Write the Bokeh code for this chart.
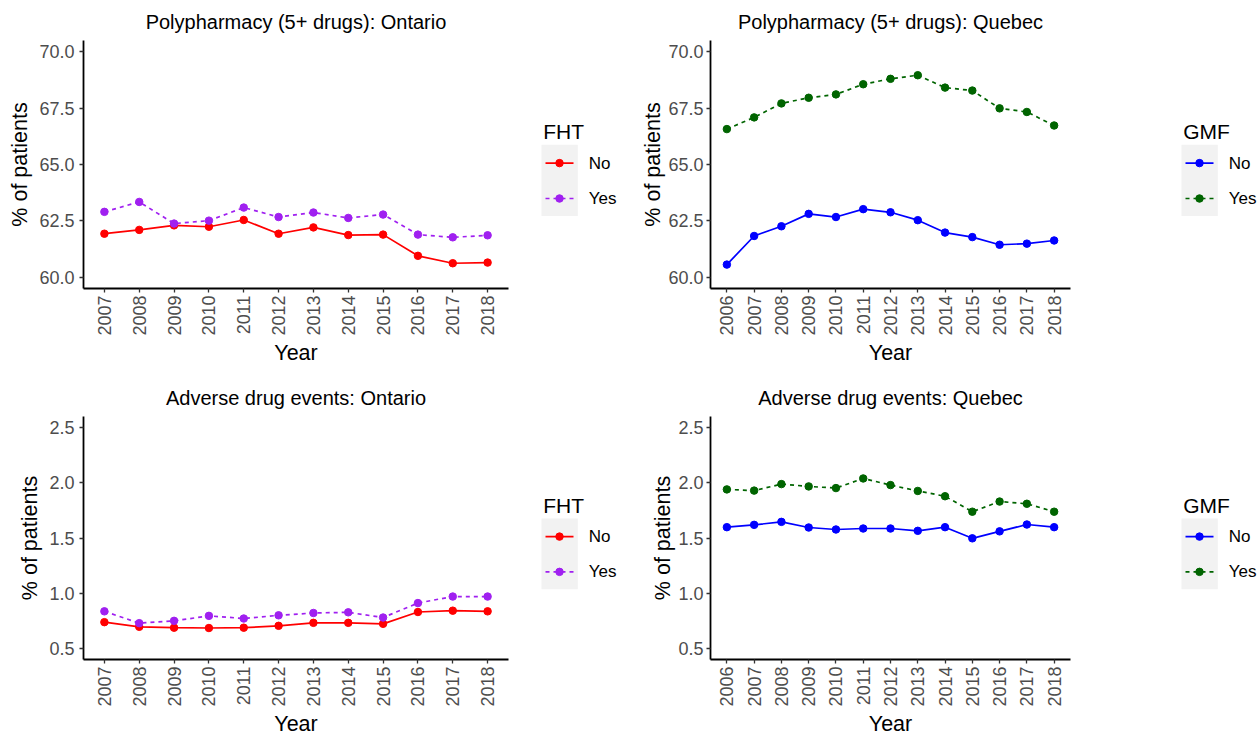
import math
from bokeh.plotting import figure
from bokeh.models import Range1d, FixedTicker, PrintfTickFormatter, BasicTickFormatter
from bokeh.layouts import row, column
from bokeh.core.properties import value
from bokeh.embed import file_html
from bokeh.resources import INLINE

FONT = "Liberation Sans"

# ---------------- data ----------------
years_on = [2007, 2008, 2009, 2010, 2011, 2012, 2013, 2014, 2015, 2016, 2017, 2018]
years_qc = [2006, 2007, 2008, 2009, 2010, 2011, 2012, 2013, 2014, 2015, 2016, 2017, 2018]

poly_on_no = [61.93, 62.10, 62.30, 62.24, 62.54, 61.93, 62.21, 61.87, 61.89, 60.95, 60.62, 60.65]
poly_on_yes = [62.90, 63.34, 62.38, 62.51, 63.09, 62.67, 62.87, 62.63, 62.78, 61.89, 61.77, 61.86]

poly_qc_no = [60.56, 61.83, 62.26, 62.81, 62.67, 63.02, 62.88, 62.53, 61.98, 61.78, 61.44, 61.49, 61.63]
poly_qc_yes = [66.57, 67.09, 67.71, 67.96, 68.11, 68.56, 68.80, 68.96, 68.41, 68.28, 67.49, 67.33, 66.73]

ade_on_no = [0.738, 0.696, 0.688, 0.685, 0.688, 0.705, 0.732, 0.732, 0.723, 0.830, 0.842, 0.836]
ade_on_yes = [0.836, 0.729, 0.750, 0.795, 0.771, 0.800, 0.821, 0.827, 0.780, 0.911, 0.970, 0.970]

ade_qc_no = [1.598, 1.619, 1.646, 1.595, 1.577, 1.586, 1.586, 1.565, 1.598, 1.497, 1.560, 1.622, 1.598]
ade_qc_yes = [1.940, 1.929, 1.988, 1.967, 1.952, 2.039, 1.979, 1.926, 1.878, 1.738, 1.830, 1.810, 1.738]

poly_ticks = [60.0, 62.5, 65.0, 67.5, 70.0]
ade_ticks = [0.5, 1.0, 1.5, 2.0, 2.5]

on_colors = ["#FF0000", "#A020F0"]
qc_colors = ["#0000FF", "#006400"]
group_labels = ["No", "Yes"]
dashes = ["solid", "4 4"]


def main_fig(w, h, bl, bt, br, bb, title, years, ser_no, ser_yes, colors, yr, yticks,
             y_lab_standoff, y_axlab_standoff):
    p = figure(width=w, height=h, min_border_left=bl, min_border_top=bt,
               min_border_right=br, min_border_bottom=bb,
               x_range=Range1d(years[0] - 0.6, years[-1] + 0.6),
               y_range=Range1d(yr[0], yr[1]),
               output_backend="svg", toolbar_location=None, title=title)
    p.title.align = "center"
    p.title.text_font = FONT
    p.title.text_font_size = "20px"
    p.title.text_font_style = "normal"
    p.title.text_color = "#000000"
    p.title.standoff = 16
    p.grid.visible = False
    p.outline_line_color = None
    p.background_fill_color = "white"
    p.border_fill_color = "white"

    for ax in (p.xaxis[0], p.yaxis[0]):
        ax.axis_line_color = "black"
        ax.axis_line_width = 1.8
        ax.major_tick_line_color = "#333333"
        ax.major_tick_line_width = 1.3
        ax.major_tick_in = 0
        ax.major_tick_out = 4
        ax.minor_tick_line_color = None
        ax.major_label_text_font = FONT
        ax.major_label_text_font_size = "18px"
        ax.major_label_text_color = "#4D4D4D"
        ax.axis_label_text_font = FONT
        ax.axis_label_text_font_size = "21.5px"
        ax.axis_label_text_font_style = "normal"
        ax.axis_label_text_color = "#000000"

    p.xaxis.major_label_standoff = 3
    p.xaxis.axis_label_standoff = 2
    p.yaxis.major_label_standoff = y_lab_standoff
    p.yaxis.axis_label_standoff = y_axlab_standoff

    p.xaxis.ticker = FixedTicker(ticks=years)
    p.xaxis.formatter = BasicTickFormatter(use_scientific=False)
    p.xaxis.major_label_orientation = math.pi / 2
    p.xaxis.axis_label = "Year"
    p.yaxis.ticker = FixedTicker(ticks=yticks)
    p.yaxis.formatter = PrintfTickFormatter(format="%.1f")
    p.yaxis.axis_label = "% of patients"

    for ser, c, d in zip([ser_no, ser_yes], colors, dashes):
        p.line(years, ser, line_color=c, line_width=1.7, line_dash=d)
    for ser, c in zip([ser_no, ser_yes], colors):
        p.scatter(years, ser, size=7.5, fill_color=c, line_color=c)
    return p


def legend_fig(w, h, bt, bb, box_left, title, colors):
    # coordinates in pixels relative to the frame (same vertical frame as the panel)
    fh = h - bt - bb
    p = figure(width=w, height=h, x_range=Range1d(0, w), y_range=Range1d(fh, 0),
               min_border_left=0, min_border_right=0,
               min_border_top=bt, min_border_bottom=bb,
               x_axis_location=None, y_axis_location=None,
               output_backend="svg", toolbar_location=None)
    p.grid.visible = False
    p.outline_line_color = None
    p.border_fill_color = "white"
    p.background_fill_color = "white"
    c = fh / 2.0
    p.quad(left=[box_left], right=[box_left + 36.3], top=[c - 19.7], bottom=[c + 51.5],
           fill_color="#F2F2F2", line_color=None)
    p.text(x=[box_left + 1.7], y=[c - 33.0], text=[title], text_font=value(FONT),
           text_font_size="21px", text_baseline="alphabetic", text_align="left",
           text_color="#000000")
    keys_y = [c - 1.4, c + 34.0]
    for ky, col, d, lab in zip(keys_y, colors, dashes, group_labels):
        p.segment(x0=[box_left + 4], x1=[box_left + 32], y0=[ky], y1=[ky],
                  line_color=col, line_width=1.7, line_dash=d)
        p.scatter(x=[box_left + 18], y=[ky], size=7.5, fill_color=col, line_color=col)
        p.text(x=[box_left + 47.3], y=[ky], text=[lab], text_font=value(FONT),
               text_font_size="17px", text_baseline="middle", text_align="left",
               text_color="#000000")
    return p


TOP_H, TOP_BT, TOP_BB = 368, 40, 80
BOT_H, BOT_BT, BOT_BB = 370, 48, 78

p1 = main_fig(525, TOP_H, 83, TOP_BT, 17, TOP_BB, "Polypharmacy (5+ drugs): Ontario",
              years_on, poly_on_no, poly_on_yes, on_colors, (59.5, 70.5), poly_ticks, 5, 4)
l1 = legend_fig(113, TOP_H, TOP_BT, TOP_BB, 16, "FHT", on_colors)
p2 = main_fig(452, TOP_H, 72, TOP_BT, 20, TOP_BB, "Polypharmacy (5+ drugs): Quebec",
              years_qc, poly_qc_no, poly_qc_yes, qc_colors, (59.5, 70.5), poly_ticks, 3, 0)
l2 = legend_fig(167, TOP_H, TOP_BT, TOP_BB, 91, "GMF", qc_colors)

p3 = main_fig(525, BOT_H, 83, BOT_BT, 17, BOT_BB, "Adverse drug events: Ontario",
              years_on, ade_on_no, ade_on_yes, on_colors, (0.4, 2.6), ade_ticks, 5, 4)
l3 = legend_fig(113, BOT_H, BOT_BT, BOT_BB, 16, "FHT", on_colors)
p4 = main_fig(452, BOT_H, 72, BOT_BT, 20, BOT_BB, "Adverse drug events: Quebec",
              years_qc, ade_qc_no, ade_qc_yes, qc_colors, (0.4, 2.6), ade_ticks, 3, 0)
l4 = legend_fig(167, BOT_H, BOT_BT, BOT_BB, 91, "GMF", qc_colors)

layout = column(row(p1, l1, p2, l2), row(p3, l3, p4, l4))

with open("out.html", "w") as f:
    f.write(file_html(layout, INLINE))
